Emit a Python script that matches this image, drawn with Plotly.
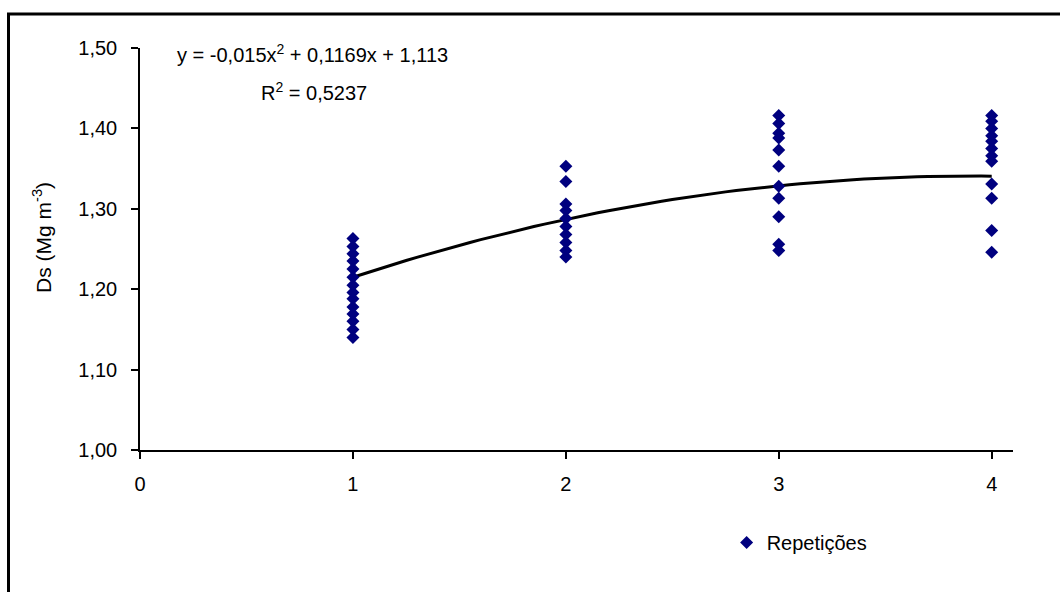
import plotly.graph_objects as go

# Data
x_rep = [1]*14 + [2]*10 + [3]*11 + [4]*12
ds_rep = [
    1.263, 1.253, 1.244, 1.235, 1.225, 1.215, 1.205, 1.196, 1.188, 1.178, 1.169, 1.160, 1.150, 1.140,
    1.353, 1.334, 1.306, 1.298, 1.288, 1.278, 1.268, 1.258, 1.248, 1.240,
    1.416, 1.406, 1.394, 1.388, 1.373, 1.353, 1.328, 1.313, 1.290, 1.256, 1.248,
    1.416, 1.409, 1.400, 1.391, 1.384, 1.375, 1.366, 1.359, 1.331, 1.313, 1.273, 1.246,
]
# Trend-line coefficients shown on the chart
coef_a, coef_b, coef_c = -0.015, 0.1169, 1.113
x_tick_vals = [0, 1, 2, 3, 4]
x_tick_text = ["0", "1", "2", "3", "4"]
y_tick_vals = [1.00, 1.10, 1.20, 1.30, 1.40, 1.50]
y_tick_text = ["1,00", "1,10", "1,20", "1,30", "1,40", "1,50"]

trend_x = [1 + i * 0.05 for i in range(61)]
trend_y = [coef_a * x * x + coef_b * x + coef_c for x in trend_x]

FONT = "Liberation Sans, Arial, sans-serif"
PW, PH = 873, 402  # plot area size in px

fig = go.Figure()
fig.add_trace(go.Scatter(
    x=trend_x, y=trend_y, mode="lines",
    line=dict(color="black", width=3),
    showlegend=False, hoverinfo="skip",
))
fig.add_trace(go.Scatter(
    x=x_rep, y=ds_rep, mode="markers", name="Repetições",
    marker=dict(symbol="diamond", size=10, color="#00007f"),
))

fig.update_layout(
    width=1060, height=592,
    margin=dict(l=140, r=47, t=48, b=142),
    paper_bgcolor="white", plot_bgcolor="white",
    font=dict(family=FONT, size=20, color="black"),
    xaxis=dict(
        range=[0, 4.1], tickvals=x_tick_vals, ticktext=x_tick_text,
        showline=True, linecolor="black", linewidth=1.5,
        ticks="outside", ticklen=7, tickwidth=1.5, tickcolor="black",
        ticklabelstandoff=8,
        showgrid=False, zeroline=False,
    ),
    yaxis=dict(
        range=[1.0, 1.5], tickvals=y_tick_vals, ticktext=y_tick_text,
        showline=True, linecolor="black", linewidth=1.5,
        ticks="outside", ticklen=7, tickwidth=1.5, tickcolor="black",
        ticklabelstandoff=10,
        showgrid=False, zeroline=False,
    ),
    legend=dict(
        x=0.672, y=-0.23, xanchor="left", yanchor="middle",
        bgcolor="rgba(0,0,0,0)", font=dict(size=20), itemwidth=30,
    ),
    annotations=[
        dict(text="y = -0,015x<sup>2</sup> + 0,1169x + 1,113", xref="paper", yref="paper",
             x=(312 - 140) / PW, y=1 - (53 - 48) / PH, xanchor="center", yanchor="middle",
             showarrow=False, font=dict(size=20)),
        dict(text="R<sup>2</sup> = 0,5237", xref="paper", yref="paper",
             x=(314 - 140) / PW, y=1 - (92 - 48) / PH, xanchor="center", yanchor="middle",
             showarrow=False, font=dict(size=20)),
        dict(text="Ds (Mg m<sup>-3</sup>)", xref="paper", yref="paper",
             x=(42 - 140) / PW, y=1 - (238 - 48) / PH, xanchor="center", yanchor="middle",
             textangle=-90, showarrow=False, font=dict(size=21)),
    ],
    shapes=[
        dict(type="line", xref="paper", yref="paper",
             x0=(8.5 - 140) / PW, x1=(8.5 - 140) / PW,
             y0=(450 - 600) / PH, y1=1 + (48 - 14) / PH,
             line=dict(color="black", width=3)),
        dict(type="line", xref="paper", yref="paper",
             x0=(7 - 140) / PW, x1=(1070 - 140) / PW,
             y0=1 + (48 - 14) / PH, y1=1 + (48 - 14) / PH,
             line=dict(color="black", width=3)),
    ],
)

fig.write_html("out.html")
